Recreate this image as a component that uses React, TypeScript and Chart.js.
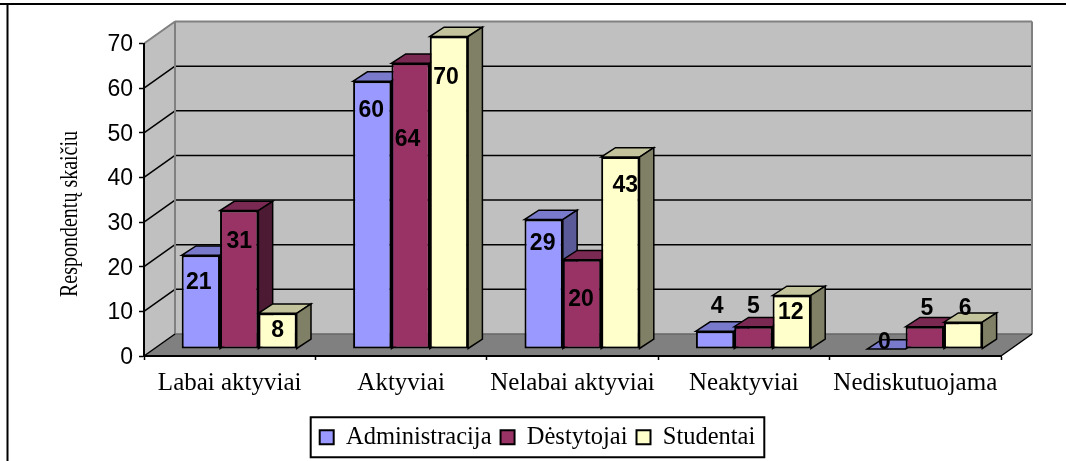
import React, { useEffect, useRef } from "react";
import { Chart, registerables } from "chart.js";

Chart.register(...registerables);

const categories = ["Labai aktyviai", "Aktyviai", "Nelabai aktyviai", "Neaktyviai", "Nediskutuojama"];
const administracija = [21, 60, 29, 4, 0];
const destytojai = [31, 64, 20, 5, 5];
const studentai = [8, 70, 43, 12, 6];
const yTicks = [0, 10, 20, 30, 40, 50, 60, 70];
const yTitle = "Respondentų skaičiu";

// label placement relative to each bar's front top-centre (dataset -> category)
const nudgeX = [
  [-2, -1, -1, 2, -2],
  [0, -3, -1, 0, 2],
  [0, -3, 5, -1, 2],
];
const nudgeY = [
  [26.5, 29, 23, -25, -7],
  [30, 75, 39, -21, -19],
  [16.5, 40.5, 28, 16, -15],
];

const WALL_DX = 31;
const WALL_DY = -22;
const BAR_DX = 9.5;
const BAR_DY = -7;
const BAR_DEPTH_X = 14.3;
const BAR_DEPTH_Y = -9.3;

const SERIF = "'Liberation Serif'";
const SANS = "'Liberation Sans'";

const topColors = ["#7a7acc", "#7a2952", "#c4c49c"];
const sideColors = ["#5a5a99", "#4d1a33", "#808066"];

function poly(ctx: CanvasRenderingContext2D, pts: number[][], fill: string | null, stroke: string | null, lw = 1) {
  ctx.beginPath();
  pts.forEach((p, i) => (i ? ctx.lineTo(p[0], p[1]) : ctx.moveTo(p[0], p[1])));
  ctx.closePath();
  if (fill) {
    ctx.fillStyle = fill;
    ctx.fill();
  }
  if (stroke) {
    ctx.strokeStyle = stroke;
    ctx.lineWidth = lw;
    ctx.lineJoin = "miter";
    ctx.stroke();
  }
}

function seg(ctx: CanvasRenderingContext2D, x1: number, y1: number, x2: number, y2: number, color: string, lw: number) {
  ctx.beginPath();
  ctx.moveTo(x1, y1);
  ctx.lineTo(x2, y2);
  ctx.strokeStyle = color;
  ctx.lineWidth = lw;
  ctx.stroke();
}

const scene3d = {
  id: "scene3d",
  beforeDraw(chart: any) {
    const { ctx, chartArea: a, scales } = chart;
    const y = scales.y;
    const top = y.getPixelForValue(70);
    const zero = y.getPixelForValue(0);
    ctx.save();
    // outer frame, open at the right and bottom
    seg(ctx, 0, 4, 1066, 4, "#000", 2);
    seg(ctx, 7.5, 4, 7.5, 461, "#000", 2);
    // back wall, side wall, floor
    poly(ctx, [[a.left + WALL_DX, top + WALL_DY], [a.right + WALL_DX, top + WALL_DY], [a.right + WALL_DX, zero + WALL_DY], [a.left + WALL_DX, zero + WALL_DY]], "#c0c0c0", null);
    poly(ctx, [[a.left, top], [a.left + WALL_DX, top + WALL_DY], [a.left + WALL_DX, zero + WALL_DY], [a.left, zero]], "#c0c0c0", null);
    poly(ctx, [[a.left, zero], [a.right, zero], [a.right + WALL_DX, zero + WALL_DY], [a.left + WALL_DX, zero + WALL_DY]], "#808080", null);
    // grid lines
    yTicks.forEach((v) => {
      const py = y.getPixelForValue(v);
      if (v > 0 && v < 70) {
        seg(ctx, a.left, py, a.left + WALL_DX, py + WALL_DY, "#000", 1.5);
        seg(ctx, a.left + WALL_DX, py + WALL_DY, a.right + WALL_DX, py + WALL_DY, "#000", 1.5);
      }
    });
    // wall edges
    seg(ctx, a.left, top, a.left + WALL_DX, top + WALL_DY, "#808080", 2);
    seg(ctx, a.left + WALL_DX, top + WALL_DY, a.right + WALL_DX, top + WALL_DY, "#808080", 2);
    seg(ctx, a.left + WALL_DX, top + WALL_DY, a.left + WALL_DX, zero + WALL_DY, "#808080", 2);
    seg(ctx, a.right + WALL_DX, top + WALL_DY, a.right + WALL_DX, zero + WALL_DY, "#808080", 2);
    seg(ctx, a.left + WALL_DX, zero + WALL_DY, a.right + WALL_DX, zero + WALL_DY, "#666", 1.5);
    seg(ctx, a.left, zero, a.left + WALL_DX, zero + WALL_DY, "#000", 1.5);
    seg(ctx, a.right, zero, a.right + WALL_DX, zero + WALL_DY, "#000", 1.5);
    ctx.restore();
  },
  beforeDatasetsDraw(chart: any) {
    const { ctx } = chart;
    ctx.save();
    categories.forEach((_, c) => {
      chart.data.datasets.forEach((_d: any, s: number) => {
        const b = chart.getDatasetMeta(s).data[c];
        const L = b.x - b.width / 2 + BAR_DX;
        const R = b.x + b.width / 2 + BAR_DX;
        const T = b.y + BAR_DY;
        const B = b.base + BAR_DY;
        poly(ctx, [[L, T], [R, T], [R + BAR_DEPTH_X, T + BAR_DEPTH_Y], [L + BAR_DEPTH_X, T + BAR_DEPTH_Y]], topColors[s], "#000", 1.5);
        if (B > T) {
          poly(ctx, [[R, T], [R + BAR_DEPTH_X, T + BAR_DEPTH_Y], [R + BAR_DEPTH_X, B + BAR_DEPTH_Y], [R, B]], sideColors[s], "#000", 1.5);
        }
      });
    });
    ctx.restore();
  },
  beforeDatasetDraw(chart: any) {
    chart.ctx.save();
    chart.ctx.translate(BAR_DX, BAR_DY);
  },
  afterDatasetDraw(chart: any) {
    chart.ctx.restore();
  },
  afterDatasetsDraw(chart: any) {
    const { ctx } = chart;
    ctx.save();
    ctx.font = `bold 23px ${SANS}`;
    ctx.fillStyle = "#000";
    ctx.textAlign = "center";
    ctx.textBaseline = "middle";
    chart.data.datasets.forEach((d: any, s: number) => {
      chart.getDatasetMeta(s).data.forEach((b: any, c: number) => {
        ctx.fillText(String(d.data[c]), b.x + BAR_DX + nudgeX[s][c], b.y + BAR_DY + nudgeY[s][c] + 1);
      });
    });
    ctx.restore();
  },
  afterDraw(chart: any) {
    const { ctx, legend } = chart;
    ctx.save();
    // y axis title: the reference's rotated text is squeezed along its length
    ctx.translate(70, 214);
    ctx.rotate(-Math.PI / 2);
    ctx.scale(0.8, 1);
    ctx.font = `25px ${SERIF}`;
    ctx.fillStyle = "#000";
    ctx.textAlign = "center";
    ctx.textBaseline = "middle";
    ctx.fillText(yTitle, 0, 0);
    ctx.restore();
    // legend frame
    const boxes = legend.legendHitBoxes;
    const first = boxes[0];
    const last = boxes[boxes.length - 1];
    ctx.save();
    ctx.strokeStyle = "#000";
    ctx.lineWidth = 2;
    ctx.strokeRect(first.left - 9, first.top - 7.75, last.left + last.width - first.left + 18, first.height + 15.5);
    ctx.restore();
  },
};

export default function App() {
  const ref = useRef<HTMLCanvasElement>(null);
  useEffect(() => {
    const chart = new Chart(ref.current as HTMLCanvasElement, {
      type: "bar",
      data: {
        labels: categories,
        datasets: [
          { label: "Administracija", data: administracija, backgroundColor: "#9999ff", borderColor: "#000", borderWidth: 2, borderSkipped: false },
          { label: "Dėstytojai", data: destytojai, backgroundColor: "#993366", borderColor: "#000", borderWidth: 2, borderSkipped: false },
          { label: "Studentai", data: studentai, backgroundColor: "#ffffcc", borderColor: "#000", borderWidth: 2, borderSkipped: false },
        ],
      },
      options: {
        responsive: false,
        animation: false,
        layout: { padding: { left: 74, right: 65, top: 43.5, bottom: 1.5 } },
        datasets: { bar: { categoryPercentage: 0.671, barPercentage: 1 } },
        plugins: {
          title: { display: false },
          tooltip: { enabled: false },
          legend: {
            display: true,
            position: "bottom",
            labels: {
              boxWidth: 14,
              boxHeight: 14,
              padding: 9,
              color: "#000",
              font: { family: SERIF, size: 24.5 },
            },
          },
        },
        scales: {
          x: {
            type: "category",
            afterFit(scale: any) {
              scale.height = 60;
            },
            grid: { drawOnChartArea: false, drawTicks: true, tickLength: 4, tickColor: "#000", tickWidth: 1.5, offset: true },
            border: { display: true, color: "#000", width: 2 },
            ticks: { color: "#000", padding: 8, font: { family: SERIF, size: 25 }, maxRotation: 0, autoSkip: false },
          },
          y: {
            min: 0,
            max: 70,
            afterFit(scale: any) {
              scale.width = 70;
            },
            grid: { drawOnChartArea: false, drawTicks: true, tickLength: 5, tickColor: "#000", tickWidth: 1.5 },
            border: { display: true, color: "#000", width: 2 },
            afterBuildTicks(scale: any) {
              scale.ticks = yTicks.map((value) => ({ value }));
            },
            ticks: { color: "#000", padding: 6, labelOffset: 1.5, font: { family: SANS, size: 23 } },
          },
        },
      },
      plugins: [scene3d],
    } as any);
    return () => chart.destroy();
  }, []);
  return (
    <div style={{ position: "absolute", left: 0, top: 0, width: 1066, height: 461, background: "#fff", overflow: "hidden" }}>
      <canvas ref={ref} width={1066} height={461} style={{ display: "block" }} />
    </div>
  );
}
